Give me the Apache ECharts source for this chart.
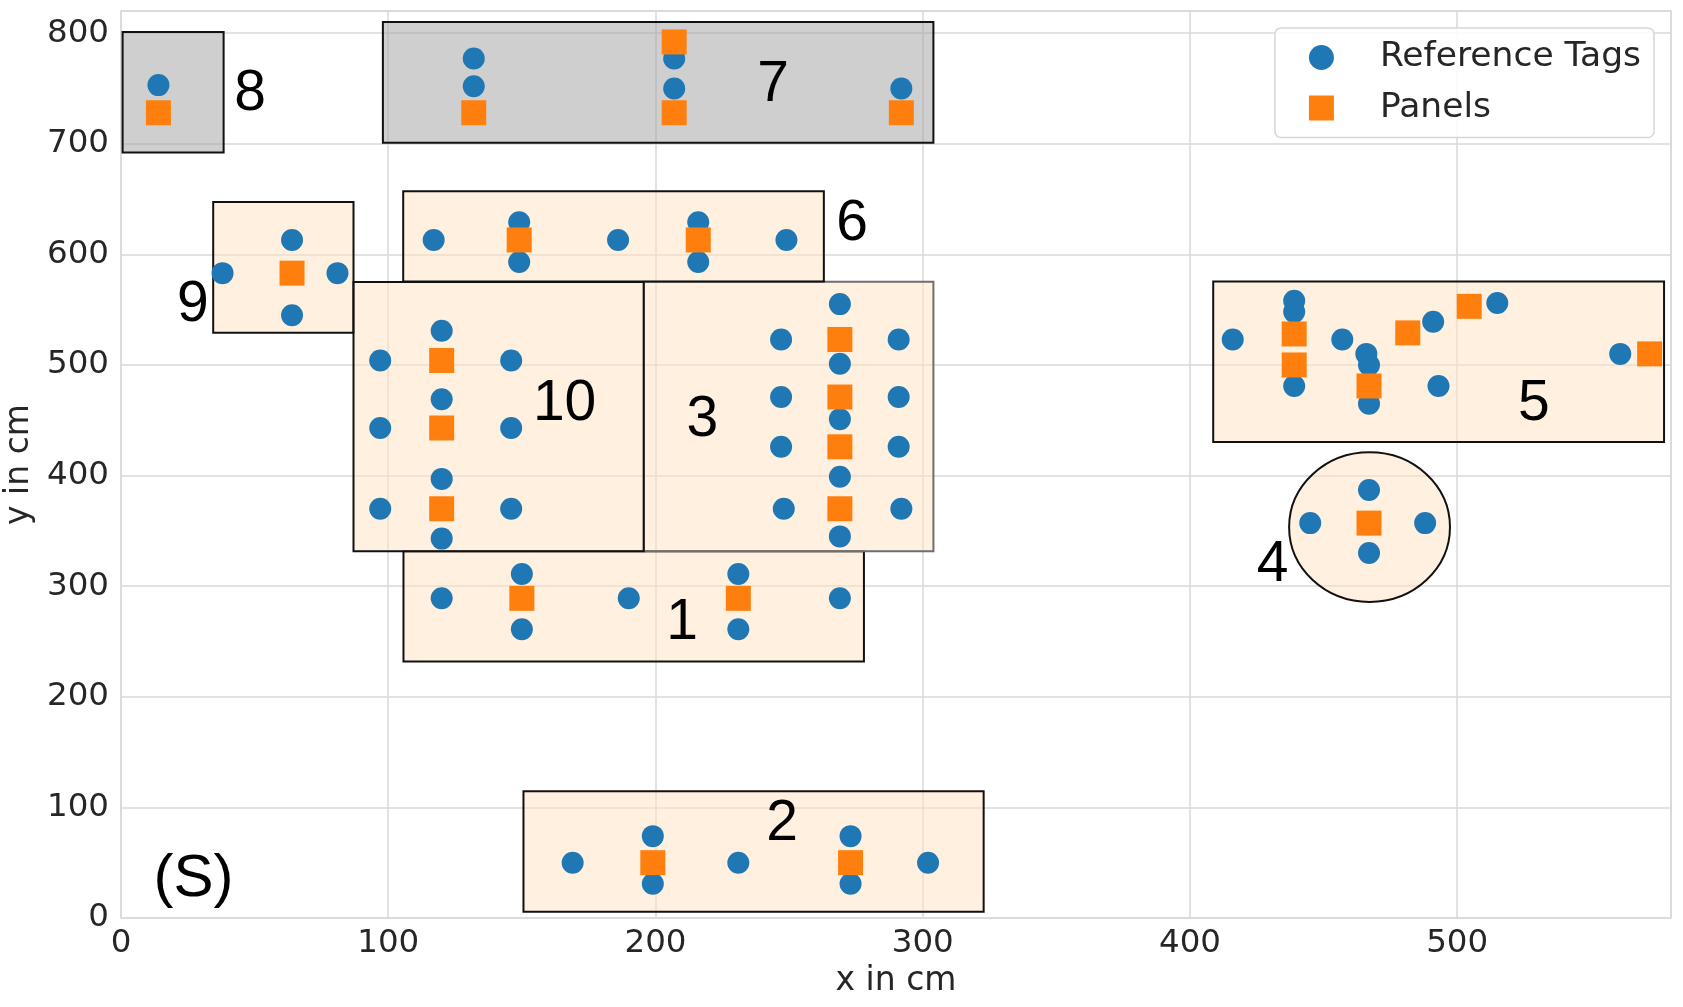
<!DOCTYPE html>
<html>
<head>
<meta charset="utf-8">
<script src="https://cdn.jsdelivr.net/npm/echarts@6/dist/echarts.min.js"></script>
<style>html,body{margin:0;padding:0;background:#fff;}#chart{width:1683px;height:1007px;}</style>
</head>
<body>
<div id="chart"></div>
<script>
// ---- data (cm) ----
const xTicks = [0, 100, 200, 300, 400, 500];
const yTicks = [0, 100, 200, 300, 400, 500, 600, 700, 800];

const referenceTags = [
  [14,753],
  [132,777],[132,752],[207,777],[207,750],[292,750],
  [117,613],[149,629],[149,593],[186,613],[216,629],[216,593],[249,613],
  [38,583],[81,583],[64,613],[64,545],
  [97,504],[97,443],[97,370],[120,531],[120,469],[120,397],[120,343],[146,504],[146,443],[146,370],
  [247,523],[247,471],[247,426],[248,370],[269,555],[269,501],[269,451],[269,399],[269,345],[291,523],[291,471],[291,426],[292,370],
  [120,289],[150,311],[150,261],[190,289],[231,311],[231,261],[269,289],
  [169,50],[199,74],[199,31],[231,50],[273,74],[273,31],[302,50],
  [416,523],[439,558],[439,548],[439,481],[457,523],[466,510],[467,500],[467,465],[491,539],[493,481],[515,556],[561,510],
  [467,387],[445,357],[488,357],[467,330]
];
const panels = [
  [14,728],
  [132,728],[207,792],[207,728],[292,728],
  [149,613],[216,613],
  [64,583],
  [120,504],[120,443],[120,370],
  [269,523],[269,471],[269,426],[269,370],
  [150,289],[231,289],
  [199,50],[273,50],
  [439,528],[439,500],[467,481],[481.5,529],[504.5,553],[572,510],
  [467,357]
];
// rectangle zones: [x0, y0, x1, y1, kind]  kind: 'o' = panel zone, 'g' = gray zone, 'l' = light-edged zone
const zoneRects = [
  [105.7,232,278,331.5,'o'],
  [150.6,5.7,322.8,114.7,'o'],
  [195.6,331.5,304,575.2,'l'],
  [408.7,430.3,577.4,575.4,'o'],
  [105.6,575.4,263,657,'o'],
  [98,701,304,810,'g'],
  [0.6,692,38.4,801,'g'],
  [34.5,529,87,647.4,'o'],
  [87,331.5,195.6,575,'o']
];
// elliptic zone: [cx, cy, rx, ry]
const zoneEllipses = [[467.2,353.4,30.1,67.7]];
// zone labels: [x, y, text]
const zoneLabels = [
  [48.3,747,'8'],[244,756,'7'],[273.6,629.6,'6'],[26.9,557,'9'],[166,467,'10'],
  [217.5,453,'3'],[210,269,'1'],[247.4,87,'2'],[528.7,467,'5'],[430.9,321.8,'4'],[27.1,37.7,'(S)']
];

const axisFont = 'DejaVu Sans';
const textCol = '#262626';
const gridCol = '#d9d9d9';

const chart = echarts.init(document.getElementById('chart'), null, {renderer:'canvas'});
chart.setOption({
  animation: false,
  backgroundColor: '#ffffff',
  grid: {left: 121, right: 12, top: 11, bottom: 89, show: true, borderColor: gridCol, borderWidth: 1.5,
         containLabel: false, outerBoundsMode: 'none'},
  xAxis: {
    type: 'value', min: 0, max: 580, interval: 100,
    name: 'x in cm', nameLocation: 'middle', nameGap: 46,
    nameTextStyle: {fontFamily: axisFont, fontSize: 33, color: textCol},
    axisLine: {show: false}, axisTick: {show: false},
    axisLabel: {fontFamily: axisFont, fontSize: 32.5, color: textCol, margin: 9, showMaxLabel: false,
      formatter: v => (xTicks.indexOf(v) >= 0 ? String(v) : '')},
    splitLine: {show: true, lineStyle: {color: gridCol, width: 1.5}}
  },
  yAxis: {
    type: 'value', min: 0, max: 820, interval: 100,
    name: 'y in cm', nameLocation: 'middle', nameGap: 80, nameRotate: 90,
    nameTextStyle: {fontFamily: axisFont, fontSize: 33, color: textCol},
    axisLine: {show: false}, axisTick: {show: false},
    axisLabel: {fontFamily: axisFont, fontSize: 32.5, color: textCol, margin: 12, showMaxLabel: false,
      formatter: v => (yTicks.indexOf(v) >= 0 ? String(v) : '')},
    splitLine: {show: true, lineStyle: {color: gridCol, width: 1.5}}
  },
  legend: {
    orient: 'vertical', right: 29, top: 28,
    padding: [12, 13, 12, 34],
    backgroundColor: 'rgba(255,255,255,0.85)', borderColor: '#d6d6d6', borderWidth: 1.5, borderRadius: 6,
    itemWidth: 25, itemHeight: 25, itemGap: 15.5,
    textStyle: {fontFamily: axisFont, fontSize: 34.5, color: textCol, padding: [0,0,0,41]},
    data: [{name: 'Reference Tags', icon: 'circle'}, {name: 'Panels', icon: 'rect'}]
  },
  series: [
    {
      type: 'custom', name: 'zones', silent: true, z: 1,
      data: zoneRects,
      renderItem: function (params, api) {
        const r = zoneRects[params.dataIndex];
        const p0 = api.coord([r[0], r[3]]);
        const p1 = api.coord([r[2], r[1]]);
        const kind = r[4];
        return {
          type: 'rect',
          shape: {x: p0[0], y: p0[1], width: p1[0]-p0[0], height: p1[1]-p0[1]},
          style: {
            fill: kind === 'g' ? 'rgba(160,160,160,0.5)' : 'rgba(255,226,194,0.5)',
            stroke: kind === 'l' ? '#6e6e6e' : '#111111',
            lineWidth: 2
          }
        };
      }
    },
    {
      type: 'custom', name: 'zone4', silent: true, z: 1,
      data: zoneEllipses,
      renderItem: function (params, api) {
        const e = zoneEllipses[params.dataIndex];
        const c = api.coord([e[0], e[1]]);
        const s = api.size([e[2], e[3]]);
        return {
          type: 'ellipse',
          shape: {cx: c[0], cy: c[1], rx: s[0], ry: s[1]},
          style: {fill: 'rgba(255,226,194,0.5)', stroke: '#111111', lineWidth: 2}
        };
      }
    },
    {
      type: 'scatter', name: 'Reference Tags', z: 3,
      symbol: 'circle', symbolSize: 22,
      itemStyle: {color: '#1f77b4', opacity: 1},
      data: referenceTags
    },
    {
      type: 'scatter', name: 'Panels', z: 4,
      symbol: 'rect', symbolSize: 25,
      itemStyle: {color: '#ff7f0e', opacity: 1},
      data: panels
    },
    {
      type: 'custom', name: 'labels', silent: true, z: 5,
      data: zoneLabels,
      renderItem: function (params, api) {
        const l = zoneLabels[params.dataIndex];
        const c = api.coord([l[0], l[1]]);
        const fs = l[2] === '(S)' ? 60 : 57;
        return {
          type: 'text',
          style: {
            x: c[0], y: c[1] + 3, text: l[2],
            font: fs + 'px "Liberation Sans"', fill: '#000000',
            textAlign: 'center', textVerticalAlign: 'middle'
          }
        };
      }
    }
  ]
});
</script>
</body>
</html>
